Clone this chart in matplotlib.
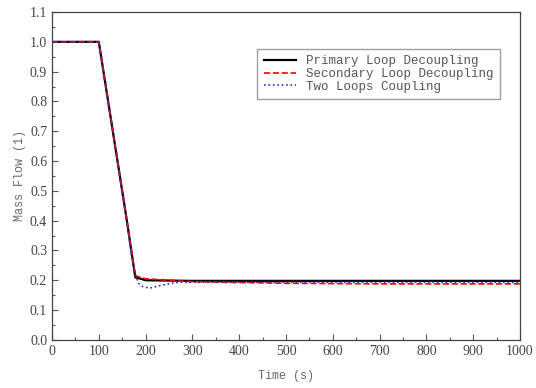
import matplotlib.pyplot as plt
import numpy as np

# time (s) and mass flow (relative)
t_primary = [0, 100, 120, 140, 160, 178, 190, 200, 300, 500, 700, 1000]
m_primary = [1.0, 1.0, 0.80, 0.60, 0.40, 0.21, 0.205, 0.20, 0.198, 0.198, 0.198, 0.198]

t_secondary = [0, 100, 120, 140, 160, 178, 190, 200, 300, 500, 700, 1000]
m_secondary = [1.0, 1.0, 0.80, 0.60, 0.40, 0.215, 0.21, 0.205, 0.195, 0.19, 0.188, 0.188]

t_coupling = [0, 100, 120, 130, 140, 150, 160, 170, 178, 185, 195, 210, 225, 240, 255, 270, 300, 500, 700, 1000]
m_coupling = [1.0, 1.0, 0.80, 0.70, 0.60, 0.50, 0.40, 0.28, 0.22, 0.19, 0.178, 0.174, 0.18, 0.185, 0.19, 0.193, 0.193, 0.193, 0.193, 0.193]

fig = plt.figure(figsize=(5.36, 3.88), dpi=100)
ax = fig.add_axes([0.097, 0.124, 0.873, 0.845])

ax.plot(t_primary, m_primary, color='black', linewidth=1.6, label='Primary Loop Decoupling')
ax.plot(t_secondary, m_secondary, color='red', linewidth=1.2, linestyle='--', label='Secondary Loop Decoupling')
ax.plot(t_coupling, m_coupling, color='#3030c0', linewidth=1.2, linestyle=':', label='Two Loops Coupling')

ax.set_xlim(0, 1000)
ax.set_ylim(0.0, 1.1)
ax.set_xticks(np.arange(0, 1001, 100))
ax.set_yticks(np.arange(0, 1.11, 0.1))
ax.set_xticks(np.arange(50, 1000, 100), minor=True)
ax.set_yticks(np.arange(0.05, 1.1, 0.1), minor=True)
ax.set_yticklabels(['%.1f' % v for v in np.arange(0, 1.11, 0.1)])
ax.tick_params(direction='in', length=4, width=0.8, labelsize=10, colors='#555555', labelcolor='#444444')
ax.tick_params(which='minor', direction='in', length=2, width=0.8, colors='#555555')
for lab in ax.get_xticklabels() + ax.get_yticklabels():
    lab.set_family('Liberation Serif')
for s in ax.spines.values():
    s.set_color('#444444')
    s.set_linewidth(0.9)

ax.set_xlabel('Time (s)', family='Liberation Mono', fontsize=8.5, color='#666666', labelpad=9)
ax.set_ylabel('Mass Flow (1)', family='Liberation Mono', fontsize=8.5, color='#666666', labelpad=3)

leg = ax.legend(loc='upper right', bbox_to_anchor=(0.957, 0.887), borderaxespad=0,
                prop={'family': 'Liberation Mono', 'size': 9},
                frameon=True, fancybox=False, edgecolor='#888888', handlelength=2.6, borderpad=0.5,
                labelspacing=0.05)
for txt in leg.get_texts():
    txt.set_color('#555555')

fig.savefig('out.png', dpi=100)
